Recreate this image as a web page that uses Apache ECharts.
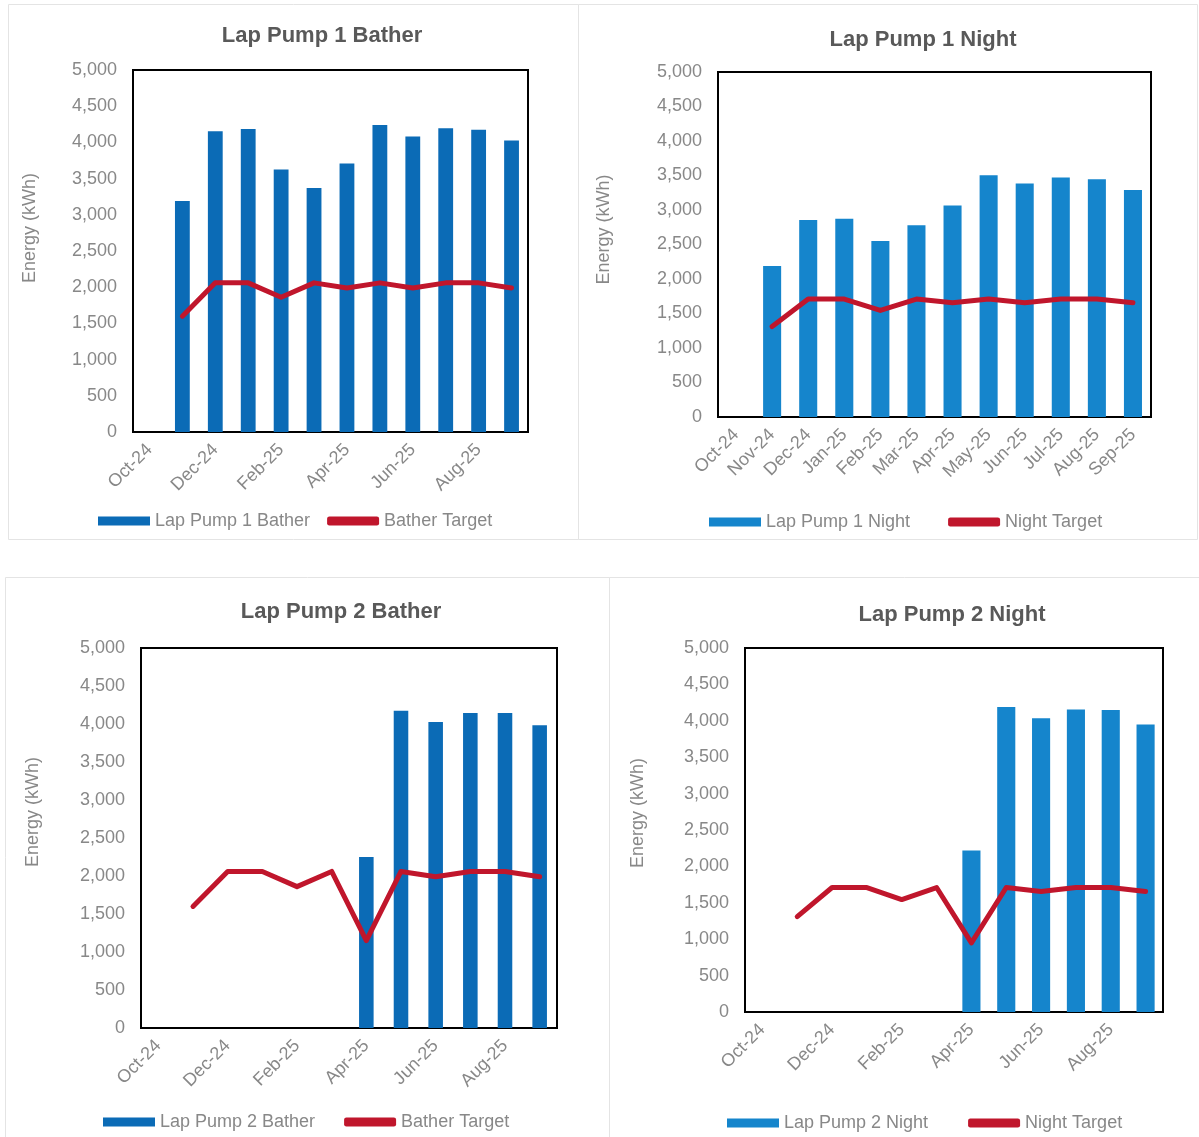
<!DOCTYPE html>
<html>
<head>
<meta charset="utf-8">
<title>Lap Pump Energy</title>
<script src="https://cdn.jsdelivr.net/npm/echarts@6/dist/echarts.min.js"></script>
<style>
  html, body { margin: 0; padding: 0; background: #fff; }
  #chart { width: 1199px; height: 1137px; }
</style>
</head>
<body>
<div id="chart"></div>
<script>
// Monthly categories shared by all four panels
const months = ['Oct-24', 'Nov-24', 'Dec-24', 'Jan-25', 'Feb-25', 'Mar-25',
                'Apr-25', 'May-25', 'Jun-25', 'Jul-25', 'Aug-25', 'Sep-25'];

// Energy use (kWh) and targets per pump / period
const pump1Bather   = [null, 3190, 4155, 4185, 3625, 3370, 3710, 4240, 4080, 4195, 4175, 4025];
const pump1BatherTarget = [null, 1600, 2060, 2060, 1860, 2060, 1990, 2060, 1990, 2060, 2060, 1990];

const pump1Night    = [null, 2190, 2855, 2875, 2550, 2780, 3065, 3505, 3385, 3470, 3445, 3290];
const pump1NightTarget  = [null, 1310, 1710, 1710, 1545, 1710, 1655, 1710, 1655, 1710, 1710, 1655];

const pump2Bather   = [null, null, null, null, null, null, 2250, 4175, 4025, 4145, 4145, 3985];
const pump2BatherTarget = [null, 1600, 2060, 2060, 1860, 2060, 1150, 2060, 1990, 2060, 2060, 1990];

const pump2Night    = [null, null, null, null, null, null, 2220, 4190, 4035, 4155, 4150, 3950];
const pump2NightTarget  = [null, 1310, 1710, 1710, 1545, 1710, 950, 1710, 1655, 1710, 1710, 1655];

const yMin = 0, yMax = 5000, yStep = 500;

const FONT = "'Liberation Sans', Arial, sans-serif";
const RED = '#c0162c';
const GREY = '#888888';

// Panel layout
const panels = [
  { title: 'Lap Pump 1 Bather', tx: 322, ty: 25, grid: { left: 133, top: 70, width: 395, height: 362 },
    bar: 'Lap Pump 1 Bather', line: 'Bather Target', barData: pump1Bather, lineData: pump1BatherTarget,
    barColor: '#0b6bb6', barWidth: '45%', labelInterval: 1, nameGap: 94, nameShift: 46,
    legend: { left: 98, top: 512, itemGap: 17 } },
  { title: 'Lap Pump 1 Night', tx: 923, ty: 29, grid: { left: 718, top: 72, width: 433, height: 345 },
    bar: 'Lap Pump 1 Night', line: 'Night Target', barData: pump1Night, lineData: pump1NightTarget,
    barColor: '#1585cc', barWidth: '50%', labelInterval: 0, nameGap: 105, nameShift: 30,
    legend: { left: 709, top: 513, itemGap: 38 } },
  { title: 'Lap Pump 2 Bather', tx: 341, ty: 601, grid: { left: 141, top: 648, width: 416, height: 380 },
    bar: 'Lap Pump 2 Bather', line: 'Bather Target', barData: pump2Bather, lineData: pump2BatherTarget,
    barColor: '#0b6bb6', barWidth: '42%', labelInterval: 1, nameGap: 99, nameShift: 52,
    legend: { left: 103, top: 1113, itemGap: 29 } },
  { title: 'Lap Pump 2 Night', tx: 952, ty: 604, grid: { left: 745, top: 648, width: 418, height: 364 },
    bar: 'Lap Pump 2 Night', line: 'Night Target', barData: pump2Night, lineData: pump2NightTarget,
    barColor: '#1585cc', barWidth: '52%', labelInterval: 1, nameGap: 98, nameShift: 34,
    legend: { left: 727, top: 1114, itemGap: 40 } }
];

const option = {
  animation: false,
  backgroundColor: '#ffffff',
  textStyle: { fontFamily: FONT },
  title: [], grid: [], xAxis: [], yAxis: [], series: [], legend: [],
  graphic: [
    // faint panel frames
    { type: 'rect', shape: { x: 8.5, y: 4.5, width: 570, height: 535 }, style: { fill: 'none', stroke: '#e4e4e4', lineWidth: 1 }, silent: true },
    { type: 'rect', shape: { x: 578.5, y: 4.5, width: 619, height: 535 }, style: { fill: 'none', stroke: '#e4e4e4', lineWidth: 1 }, silent: true },
    { type: 'rect', shape: { x: 5.5, y: 577.5, width: 604, height: 570 }, style: { fill: 'none', stroke: '#e4e4e4', lineWidth: 1 }, silent: true },
    { type: 'rect', shape: { x: 609.5, y: 577.5, width: 595, height: 570 }, style: { fill: 'none', stroke: '#e4e4e4', lineWidth: 1 }, silent: true }
  ]
};

panels.forEach((p, i) => {
  option.title.push({
    text: p.title, left: p.tx, top: p.ty, textAlign: 'center', padding: 0,
    textStyle: { fontFamily: FONT, fontSize: 22, fontWeight: 'bold', color: '#595959' }
  });
  option.grid.push(Object.assign({ show: true, borderColor: '#000', borderWidth: 2, backgroundColor: '#fff', containLabel: false }, p.grid));
  option.xAxis.push({
    type: 'category', gridIndex: i, data: months,
    axisLine: { show: true, lineStyle: { color: '#000', width: 2 } },
    axisTick: { show: false },
    axisLabel: { interval: p.labelInterval, rotate: 45, margin: 15, fontFamily: FONT, fontSize: 18, color: GREY }
  });
  option.yAxis.push({
    type: 'value', gridIndex: i, min: yMin, max: yMax, interval: yStep,
    name: 'Energy (kWh)', nameLocation: 'middle', nameGap: p.nameGap,
    nameTextStyle: { fontFamily: FONT, fontSize: 18, color: GREY, padding: [0, 0, 0, p.nameShift] },
    axisLine: { show: false }, axisTick: { show: false }, splitLine: { show: false },
    axisLabel: { margin: 16, fontFamily: FONT, fontSize: 18, color: GREY,
      formatter: v => v.toLocaleString('en-US') }
  });
  option.series.push({
    name: p.bar, type: 'bar', xAxisIndex: i, yAxisIndex: i, data: p.barData,
    barWidth: p.barWidth, itemStyle: { color: p.barColor }
  });
  option.series.push({
    name: p.line, type: 'line', xAxisIndex: i, yAxisIndex: i, data: p.lineData,
    showSymbol: false, symbol: 'none', lineStyle: { color: RED, width: 5, join: 'round', cap: 'round' },
    itemStyle: { color: RED }, z: 5
  });
  option.legend.push({
    left: p.legend.left, top: p.legend.top, itemGap: p.legend.itemGap, padding: 0,
    itemWidth: 52, itemHeight: 9, selectedMode: false,
    textStyle: { fontFamily: FONT, fontSize: 18, color: GREY },
    data: [
      { name: p.bar, icon: 'rect', itemStyle: { color: p.barColor } },
      { name: p.line, icon: 'roundRect', itemStyle: { color: RED } }
    ]
  });
});

const chart = echarts.init(document.getElementById('chart'), null, { renderer: 'canvas' });
chart.setOption(option);
</script>
</body>
</html>
